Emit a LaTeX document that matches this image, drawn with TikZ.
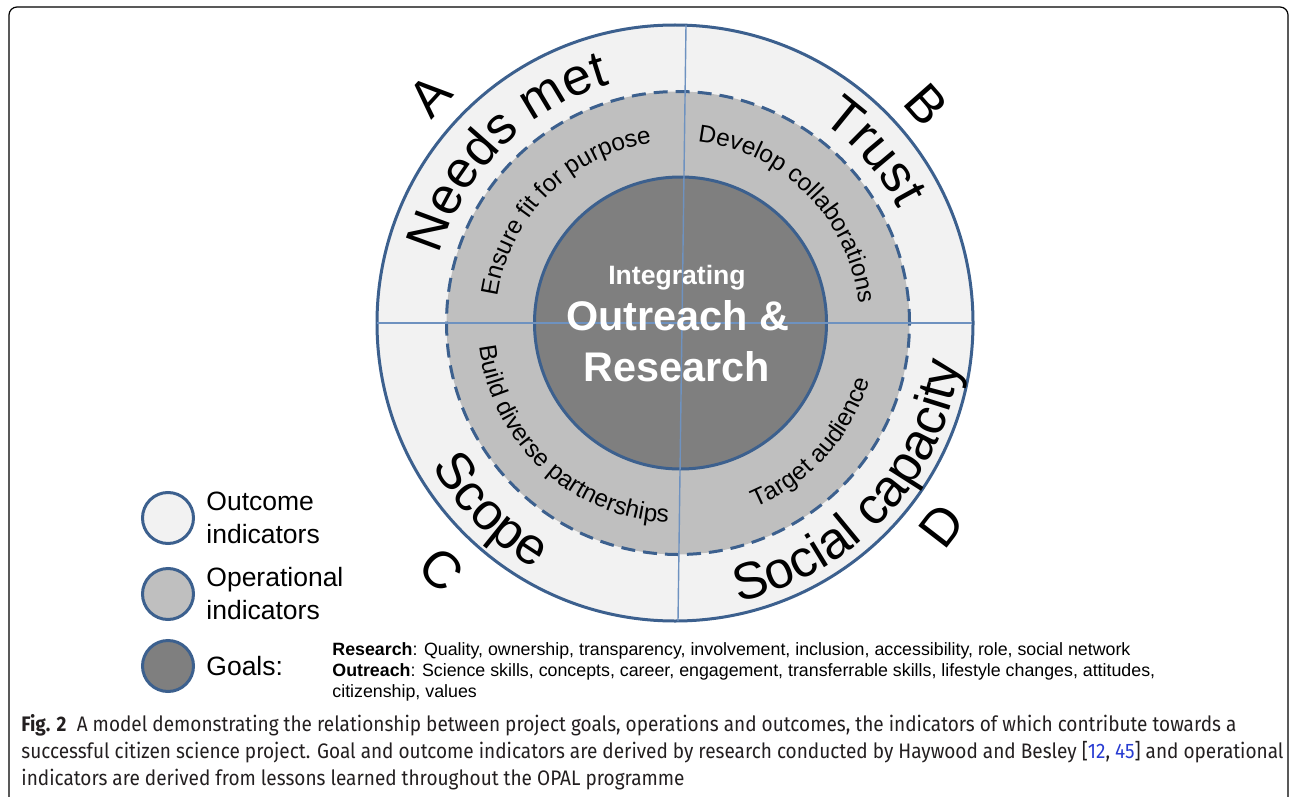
\documentclass[tikz,border=0pt]{standalone}
\usepackage{fontspec}
\setmainfont{Liberation Sans}
\newfontfamily\capfont[FakeStretch=0.905]{Fira Sans}
\usetikzlibrary{decorations.text,positioning}

\definecolor{ringblue}{RGB}{60,96,142}
\definecolor{axisblue}{RGB}{110,146,192}
\definecolor{outcomegray}{RGB}{242,242,242}
\definecolor{operationgray}{RGB}{191,191,191}
\definecolor{goalgray}{RGB}{127,127,127}
\definecolor{captext}{RGB}{35,31,32}
\definecolor{citeblue}{RGB}{40,60,210}

\newcommand{\ringfont}{\fontsize{26}{30}\selectfont}
\newcommand{\midfont}{\fontsize{12.2}{14}\selectfont}

\tikzset{
  ringline/.style={draw=ringblue, line width=1.5pt},
  axisline/.style={draw=axisblue, line width=0.7pt},
  ringtext/.style={decorate, decoration={text along path, text align=center, text={#1}}},
  letter/.style={font=\ringfont, inner sep=0pt},
  centertext/.style={text=white, anchor=base, inner sep=0pt},
  legenddot/.style={circle, ringline, minimum size=25.5pt, inner sep=0pt},
  legendtext/.style={font=\fontsize{13.25}{16.5}\selectfont, align=left, inner sep=0pt},
  goaltext/.style={font=\fontsize{8.9}{10.5}\selectfont, inner sep=0pt, anchor=base west},
  captionline/.style={font=\capfont\fontsize{10.5}{13.5}\selectfont, text=captext, inner sep=0pt, anchor=base west}
}

\begin{document}
\begin{tikzpicture}[x=0.5pt, y=-0.5pt]
    \useasboundingbox (0,0) rectangle (1290,797);
    \begin{scope}
        \clip (0,0) rectangle (1290,797);
        \draw [line width=0.6pt, rounded corners=4pt] (9,7) rectangle (1288,840);
    \end{scope}

    % the three rings
    \begin{scope}[shift={(678,323)}, y=0.5pt]
        \coordinate (O) at (0,0);
        \draw [ringline, fill=outcomegray] (-3,0) circle (298);
        \draw [ringline, fill=operationgray, dash pattern=on 7pt off 4pt] (O) circle (231.5);
        \draw [ringline, fill=goalgray] (2.5,0) circle (146);

        \coordinate (N) at (8,298);
        \coordinate (S) at (0,-298);
        \coordinate (W) at (-301,0);
        \coordinate (E) at (294,0);
        \draw [axisline] (N) -- (S);
        \draw [axisline] (W) -- (E);

        % outcome indicators
        \path [ringtext={|\ringfont|Needs met}] (180:248) arc [start angle=180, end angle=90, radius=248];
        \path [ringtext={|\ringfont|Trust}] (86:248) arc [start angle=86, end angle=-4, radius=248];
        \path [ringtext={|\ringfont|Scope}] (180:285) arc [start angle=180, end angle=270, radius=285];
        \path [ringtext={|\ringfont|Social capacity}] (272:285) arc [start angle=272, end angle=362, radius=285];

        % operational indicators
        \path [ringtext={|\midfont|Ensure fit for purpose}] (180:182) arc [start angle=180, end angle=90, radius=182];
        \path [ringtext={|\midfont|Develop collaborations}] (90:182) arc [start angle=90, end angle=0, radius=182];
        \path [ringtext={|\midfont|Build diverse partnerships}] (182:200) arc [start angle=182, end angle=272, radius=200];
        \path [ringtext={|\midfont|Target audience}] (273:200) arc [start angle=273, end angle=363, radius=200];

        \node [letter, rotate=47.5] (A) at (137.5:337) {A};
        \node [letter, rotate=-48.7] (B) at (41.3:330) {B};
        \node [letter, rotate=-43.8] (C) at (226.2:342) {C};
        \node [letter, rotate=52.4] (D) at (322.4:333) {D};
    \end{scope}

    % goals
    \node [centertext, font=\bfseries\fontsize{13.3}{16}\selectfont] (integrating) at (677,284) {Integrating};
    \node [centertext, font=\bfseries\fontsize{20.7}{24}\selectfont] (outreach) at (678,330) {Outreach \&};
    \node [centertext, font=\bfseries\fontsize{20.7}{24}\selectfont] (research) at (677,381) {Research};

    % legend
    \node [legenddot, fill=outcomegray] (outcomedot) at (168,518) {};
    \node [legenddot, fill=operationgray] (operationdot) at (168,594) {};
    \node [legenddot, fill=goalgray] (goaldot) at (168,666) {};
    \node [legendtext, right=5.5pt of outcomedot] (outcomelabel) {Outcome\\indicators};
    \node [legendtext, right=5.5pt of operationdot] (operationlabel) {Operational\\indicators};
    \node [legendtext, right=5.5pt of goaldot] (goallabel) {Goals:};

    \node [goaltext] (goalresearch) at (332,655) {\textbf{Research}: Quality, ownership, transparency, involvement, inclusion, accessibility, role, social network};
    \node [goaltext] (goaloutreach) at (332,676) {\textbf{Outreach}: Science skills, concepts, career, engagement, transferrable skills, lifestyle changes, attitudes,};
    \node [goaltext] (goalrest) at (332,697) {citizenship, values};

    % caption
    \node [captionline] (capone) at (21,731) {\textbf{Fig. 2}\enspace A model demonstrating the relationship between project goals, operations and outcomes, the indicators of which contribute towards a};
    \node [captionline] (captwo) at (21,758) {successful citizen science project. Goal and outcome indicators are derived by research conducted by Haywood and Besley [\textcolor{citeblue}{12}, \textcolor{citeblue}{45}] and operational};
    \node [captionline] (capthree) at (21,785) {indicators are derived from lessons learned throughout the OPAL programme};
\end{tikzpicture}
\end{document}
